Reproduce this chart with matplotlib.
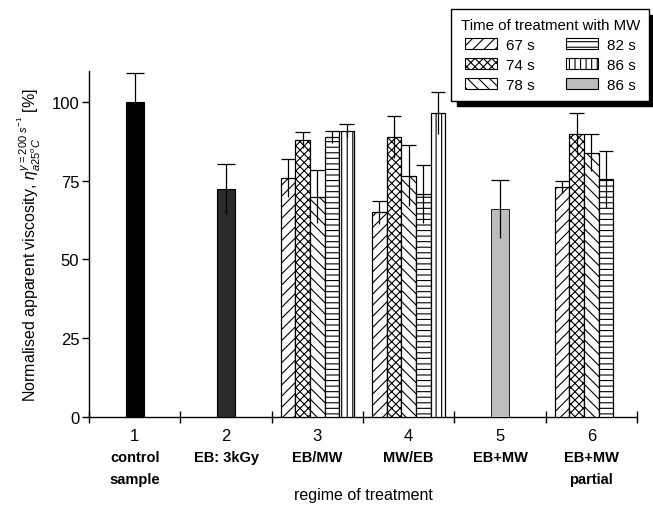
import matplotlib
matplotlib.use("Agg")
import matplotlib.pyplot as plt
from matplotlib.patches import Patch
import numpy as np

plt.rcParams['font.family'] = ['Liberation Sans', 'DejaVu Sans']
plt.rcParams['hatch.linewidth'] = 0.8
plt.rcParams['mathtext.fontset'] = 'custom'
plt.rcParams['mathtext.rm'] = 'Liberation Sans'
plt.rcParams['mathtext.it'] = 'Liberation Sans:italic'

# ---- data ----
categories = ['1', '2', '3', '4', '5', '6']
category_names = ['control\nsample', 'EB: 3kGy', 'EB/MW', 'MW/EB', 'EB+MW', 'EB+MW\npartial']
series_labels = ['67 s', '74 s', '78 s', '82 s', '86 s', '86 s']

control_value, control_err = 100, 9.3
eb_value, eb_err = 72.5, 8.0

ebmw_values = [76, 88, 70, 89, 91]
ebmw_errs = [6, 2.5, 8.5, 2, 2]

mweb_values = [65, 89, 76.7, 70.9, 96.6]
mweb_errs = [3.6, 6.6, 9.6, 9.2, 6.6]

ebplusmw_value, ebplusmw_err = 66, 9.3

partial_values = [73, 90, 84, 75.5]
partial_errs = [2, 6.6, 6, 9]

# ---- styles ----
hatches = ['///', 'xxxx', '\\\\\\', '---', '|||', None]
faces = ['white', 'white', 'white', 'white', 'white', '#bdbdbd']

fig = plt.figure(figsize=(6.53, 5.06), dpi=100)
ax = fig.add_axes([0.1363, 0.1745, 0.9755 - 0.1363, 0.858 - 0.1745])

single_w = 0.2
grp_w = 0.16


def draw_err(x, v, e, w):
    ax.vlines(x, v - e, v + e, color='black', lw=0.9, zorder=4)
    ax.hlines(v + e, x - w / 2, x + w / 2, color='black', lw=0.9, zorder=4)


# group 1: control
ax.bar(1, control_value, width=single_w, color='black', edgecolor='black', lw=0.8, zorder=3)
draw_err(1, control_value, control_err, single_w)

# group 2: EB
ax.bar(2, eb_value, width=single_w, color='#2b2b2b', edgecolor='black', lw=0.8, zorder=3)
draw_err(2, eb_value, eb_err, single_w)

# groups 3, 4, 6: multiple times
for gx, vals, errs in [(3, ebmw_values, ebmw_errs), (4, mweb_values, mweb_errs),
                       (6, partial_values, partial_errs)]:
    for i, (v, e) in enumerate(zip(vals, errs)):
        x = gx + (i - 2) * grp_w
        ax.bar(x, v, width=grp_w, color=faces[i], hatch=hatches[i],
               edgecolor='black', lw=0.9, zorder=3)
        draw_err(x, v, e, grp_w)

# group 5
ax.bar(5, ebplusmw_value, width=single_w, color=faces[5], edgecolor='black', lw=0.6, zorder=3)
draw_err(5, ebplusmw_value, ebplusmw_err, single_w)

# ---- axes ----
ax.set_xlim(0.5, 6.5)
ax.set_ylim(0, 110)
ax.spines['top'].set_visible(False)
ax.spines['right'].set_visible(False)
ax.spines['left'].set_linewidth(1.0)
ax.spines['bottom'].set_linewidth(1.0)
ax.set_yticks([0, 25, 50, 75, 100])
ax.tick_params(axis='y', direction='out', length=5, width=1, labelsize=12, pad=2)
ax.set_xticks(np.arange(0.5, 7.0, 1.0))
ax.set_xticklabels([])
ax.tick_params(axis='x', direction='inout', length=9, width=1)

for i, (c, n) in enumerate(zip(categories, category_names)):
    ax.text(i + 1, -0.033, c, transform=ax.get_xaxis_transform(), ha='center', va='top',
            fontsize=12)
    ax.text(i + 1, -0.097, n, transform=ax.get_xaxis_transform(), ha='center', va='top',
            fontsize=10.5, fontweight='bold', linespacing=1.7)

fig.text(0.5 * (0.1363 + 0.9755), 0.005, 'regime of treatment', ha='center', va='bottom',
         fontsize=11.5)

ax.set_ylabel(r'Normalised apparent viscosity, $\eta_{a25^{o}C}^{\gamma=200\ s^{-1}}$ [%]',
              fontsize=11.5, labelpad=6)

handles = [Patch(facecolor=faces[i], edgecolor='black', hatch=hatches[i], lw=0.8)
           for i in range(6)]
leg = fig.legend(handles, series_labels, ncol=2, title='Time of treatment with MW',
                 loc='upper right', bbox_to_anchor=(0.994, 0.98), borderaxespad=0,
                 fontsize=11, title_fontsize=10.8, frameon=True, fancybox=False,
                 edgecolor='black',
                 shadow={'color': 'black', 'alpha': 1.0, 'ox': 4, 'oy': -4},
                 handlelength=2.1, handleheight=0.7, columnspacing=2.1,
                 handletextpad=0.55, labelspacing=0.38, borderpad=0.6)
leg.get_frame().set_linewidth(1.0)

fig.savefig('out.png', dpi=100)
